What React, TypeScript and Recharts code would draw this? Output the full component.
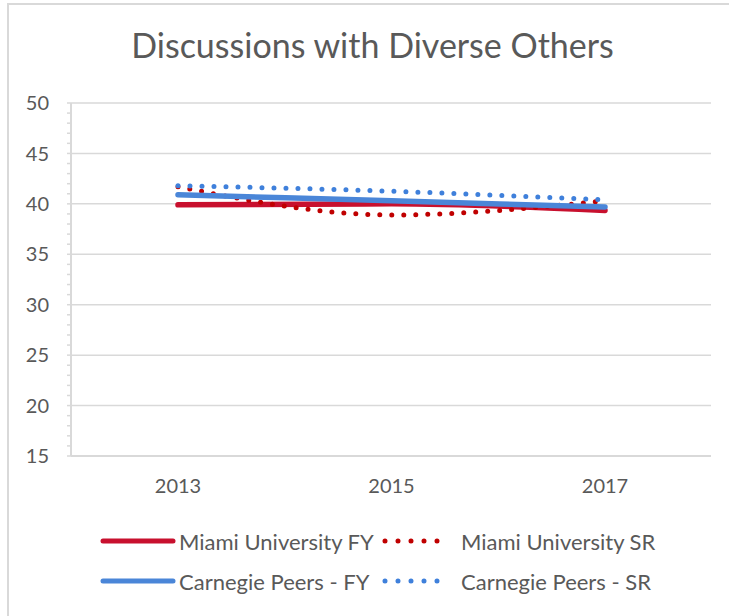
import { LineChart, Line, XAxis, YAxis, CartesianGrid } from 'recharts';

const YEARS = ['2013', '2015', '2017'];
const MIAMI_FY = [39.9, 40.0, 39.35];
const MIAMI_SR = [41.7, 38.9, 40.3];
const CARNEGIE_FY = [40.9, 40.3, 39.7];
const CARNEGIE_SR = [41.8, 41.25, 40.4];

const Y_MAJOR = [15, 20, 25, 30, 35, 40, 45, 50];
const Y_MINOR = Array.from({ length: 36 }, (_, i) => 15 + i);

const SERIES = [
  { key: 'miamiFY', label: 'Miami University FY', color: '#C8102E', dotted: false },
  { key: 'miamiSR', label: 'Miami University SR', color: '#C00000', dotted: true },
  { key: 'carnegieFY', label: 'Carnegie Peers - FY', color: '#4A86D8', dotted: false },
  { key: 'carnegieSR', label: 'Carnegie Peers - SR', color: '#3F80DB', dotted: true },
] as const;

const data = YEARS.map((year, i) => ({
  year,
  miamiFY: MIAMI_FY[i],
  miamiSR: MIAMI_SR[i],
  carnegieFY: CARNEGIE_FY[i],
  carnegieSR: CARNEGIE_SR[i],
}));

const FONT = 'Lato, "Open Sans", sans-serif';
const TEXT = '#595959';
const GRID = '#d9d9d9';

function LegendIcon({ color, dotted }: { color: string; dotted: boolean }) {
  return (
    <svg width={76} height={12} style={{ display: 'block' }}>
      {dotted ? (
        <line x1={5} y1={6} x2={70} y2={6} stroke={color} strokeWidth={5}
          strokeLinecap="round" strokeDasharray="0 13" />
      ) : (
        <line x1={3} y1={6} x2={73} y2={6} stroke={color} strokeWidth={5} strokeLinecap="round" />
      )}
    </svg>
  );
}

function ChartLegend() {
  const rows = [SERIES.slice(0, 2), SERIES.slice(2, 4)];
  return (
    <div style={{ position: 'absolute', left: 100, top: 521, fontFamily: FONT, fontSize: 22, color: TEXT }}>
      {rows.map((row, r) => (
        <div key={r} style={{ display: 'flex', alignItems: 'center', height: 40 }}>
          {row.map((s, j) => (
            <div key={s.key} style={{ display: 'flex', alignItems: 'center', width: j === 0 ? 280 : 320 }}>
              <div style={{ marginRight: j === 0 ? 3 : 5 }}>
                <LegendIcon color={s.color} dotted={s.dotted} />
              </div>
              <span style={{ whiteSpace: 'nowrap' }}>{s.label}</span>
            </div>
          ))}
        </div>
      ))}
    </div>
  );
}

export default function App() {
  return (
    <div style={{ position: 'absolute', left: 0, top: 0, width: 729, height: 616, background: '#fff', overflow: 'hidden' }}>
      <div style={{
        position: 'absolute', left: 7, top: 3, right: 0, bottom: 0,
        borderLeft: `2px solid ${GRID}`, borderTop: `2px solid ${GRID}`,
      }} />
      <div style={{
        position: 'absolute', left: 8, width: 729, top: 24, textAlign: 'center',
        fontFamily: FONT, fontSize: 34, color: TEXT, whiteSpace: 'nowrap',
      }}>
        Discussions with Diverse Others
      </div>
      <div style={{ position: 'absolute', left: 0, top: 0 }}>
        <LineChart width={729} height={616} data={data}
          margin={{ top: 103, right: 18, left: 7, bottom: 130 }}>
          <CartesianGrid vertical={false} stroke={GRID} strokeWidth={1.5}
            horizontalValues={Y_MAJOR} />
          <XAxis dataKey="year" axisLine={{ stroke: GRID, strokeWidth: 2 }} tickLine={false}
            padding={{ left: 107, right: 106 }}
            tick={{ fontSize: 20, fill: TEXT, fontFamily: FONT }} tickMargin={17} height={30} />
          <YAxis domain={[15, 50]} ticks={Y_MINOR} interval={0} width={64}
            tickFormatter={(v: number) => (v % 5 === 0 ? String(v) : '')}
            axisLine={{ stroke: GRID, strokeWidth: 2 }} tickLine={{ stroke: GRID, strokeWidth: 1.5 }}
            tickSize={4} tickMargin={18}
            tick={{ fontSize: 20, fill: TEXT, fontFamily: FONT }} />
          {SERIES.map((s) => (
            <Line key={s.key} dataKey={s.key} name={s.label} type="monotone"
              stroke={s.color} strokeWidth={s.dotted ? 5 : 5.5} dot={false}
              strokeLinecap="round"
              strokeDasharray={s.dotted ? '0 12' : undefined}
              isAnimationActive={false} />
          ))}
        </LineChart>
      </div>
      <ChartLegend />
    </div>
  );
}
